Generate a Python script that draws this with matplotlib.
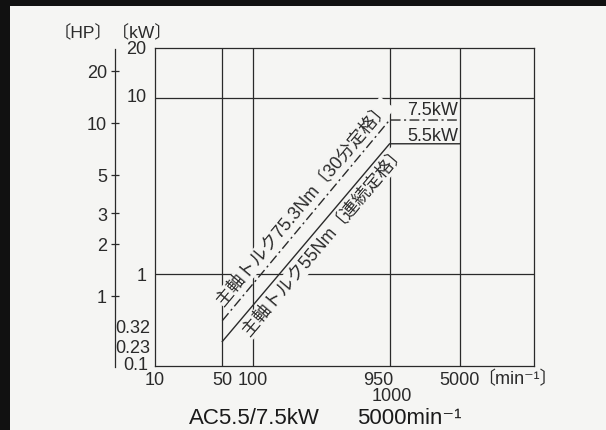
import numpy as np
import matplotlib
matplotlib.use('Agg')
import matplotlib.pyplot as plt
from matplotlib.patches import Rectangle

# spindle output chart (schematic log-log)
speed = [50, 950, 5000]             # min-1
kw_30min = [0.32, 7.5, 7.5]         # 75.3Nm, 30 min rating
kw_cont = [0.23, 5.5, 5.5]          # 55Nm, continuous rating
rated_labels = ['7.5kW', '5.5kW']
label_30min = '主軸トルク75.3Nm〔30分定格〕'
label_cont = '主軸トルク55Nm〔連続定格〕'

x_grid = [50, 100, 950, 5000]
y_grid = [1, 10]
x_ticks = [10, 50, 100, 950, 5000]
x_ticklabels = ['10', '50', '100', '950', '5000']
kw_ticks = [0.1, 0.23, 0.32, 1, 10, 20]
kw_ticklabels = ['0.1', '0.23', '0.32', '1', '10', '20']
hp_ticks = [1, 2, 3, 5, 10, 20]
hp_ticklabels = ['1', '2', '3', '5', '10', '20']

# the drawing is not a true log scale: piecewise log mapping (value -> position)
x_knots = [10, 50, 100, 950, 5000, 20000]
x_knot_pos = [0, 67.3, 97.8, 234.6, 305.0, 379.0]
y_knots = [0.1, 0.23, 0.32, 1, 10, 20]
y_knot_pos = [0, 24.2, 45.0, 91.4, 267.7, 317.7]


def piecewise_log(vals, pos):
    lv = np.log10(vals)
    pos = np.asarray(pos, float)

    def fwd(v):
        v = np.clip(np.asarray(v, float), 1e-12, None)
        return np.interp(np.log10(v), lv, pos)

    def inv(p):
        return 10 ** np.interp(np.asarray(p, float), pos, lv)
    return fwd, inv


plt.rcParams['font.family'] = ['Liberation Sans', 'Noto Sans CJK JP', 'DejaVu Sans']
bg = '#f5f5f3'
ink = '#2a2a2a'
W, H = 606, 431
fs = 13

fig = plt.figure(figsize=(W / 100, H / 100), dpi=100, facecolor=bg)
fig.patches.append(Rectangle((0, 1 - 7 / H), 1, 7 / H, transform=fig.transFigure, fc='#111111', ec='none'))
fig.patches.append(Rectangle((0, 0), 10 / W, 1, transform=fig.transFigure, fc='#111111', ec='none'))

ax = fig.add_axes([155 / W, 64.3 / H, 379 / W, 317.7 / H])
ax.set_facecolor('none')
ax.set_xscale('function', functions=piecewise_log(x_knots, x_knot_pos))
ax.set_yscale('function', functions=piecewise_log(y_knots, y_knot_pos))
ax.set_xlim(x_knots[0], x_knots[-1])
ax.set_ylim(y_knots[0], y_knots[-1])
ax.set_xticks(x_grid)
ax.set_yticks(y_grid)
ax.minorticks_off()
ax.tick_params(length=0, labelbottom=False, labelleft=False)
ax.grid(True, color=ink, lw=0.9, zorder=1)
ax.set_axisbelow(True)
for s in ax.spines.values():
    s.set_color(ink)
    s.set_linewidth(0.9)

# power curves
ax.plot(speed, kw_30min, color=ink, lw=1.0, ls=(0, (7, 2.5, 1.5, 2.5)), zorder=4)
ax.plot(speed, kw_cont, color=ink, lw=1.0, zorder=4)

# rating labels above the flat parts
ax.annotate(rated_labels[0], xy=(speed[-1], kw_30min[-1]), xytext=(-1.5, 4.3),
            textcoords='offset points', ha='right', va='baseline', fontsize=fs, color=ink)
ax.annotate(rated_labels[1], xy=(speed[-1], kw_cont[-1]), xytext=(-1.5, 2.4),
            textcoords='offset points', ha='right', va='baseline', fontsize=fs, color=ink)


def label_along(text, xs, ys, t, off):
    p0 = ax.transData.transform((xs[0], ys[0]))
    p1 = ax.transData.transform((xs[1], ys[1]))
    d = p1 - p0
    ang = np.degrees(np.arctan2(d[1], d[0]))
    mid = ax.transData.inverted().transform(p0 + t * d)
    a = np.radians(ang)
    n = np.array([-np.sin(a), np.cos(a)]) * off
    ax.annotate(text, xy=mid, xytext=(n[0], n[1]), textcoords='offset points',
                rotation=ang, rotation_mode='anchor', ha='center', va='center',
                fontsize=12.8, color=ink, zorder=3,
                bbox=dict(boxstyle='square,pad=0.06', fc=bg, ec='none'))


label_along(label_30min, speed[:2], kw_30min[:2], 0.545, 9.3)
label_along(label_cont, speed[:2], kw_cont[:2], 0.554, -9.2)

# x tick labels
x_label_dx = {950: -8.4}
for v, s in zip(x_ticks, x_ticklabels):
    ax.annotate(s, xy=(v, 0), xycoords=('data', 'axes fraction'),
                xytext=(x_label_dx.get(v, 0), -9.6), textcoords='offset points',
                ha='center', va='center', fontsize=fs, color=ink)
ax.annotate('1000', xy=(1000, 0), xycoords=('data', 'axes fraction'),
            xytext=(0, -21.6), textcoords='offset points',
            ha='center', va='center', fontsize=fs, color=ink)
ax.annotate('〔min⁻¹〕', xy=(5000, 0), xycoords=('data', 'axes fraction'),
            xytext=(12.5, -9.6), textcoords='offset points',
            ha='left', va='center', fontsize=fs, color=ink)

# kW tick labels
kw_label_off = {0.1: (-4.8, 1.2), 0.23: (-3.4, -4.3), 0.32: (-3.4, -4.75),
                1: (-6.0, -1.2), 10: (-6.0, 1.2), 20: (-6.0, 0)}
for v, s in zip(kw_ticks, kw_ticklabels):
    ax.annotate(s, xy=(0, v), xycoords=('axes fraction', 'data'),
                xytext=kw_label_off[v], textcoords='offset points',
                ha='right', va='center', fontsize=fs, color=ink)

# HP axis
ax_hp = fig.add_axes([115 / W, (H - 368.3) / H, 0.002, (368.3 - 50) / H])
ax_hp.patch.set_visible(False)
for k in ['top', 'right', 'bottom']:
    ax_hp.spines[k].set_visible(False)
ax_hp.spines['left'].set_color(ink)
ax_hp.spines['left'].set_linewidth(0.9)
ax_hp.set_yscale('log')
ax_hp.set_ylim(0.3855, 26.7)
ax_hp.set_yticks(hp_ticks)
ax_hp.set_yticklabels(hp_ticklabels)
ax_hp.minorticks_off()
ax_hp.set_xticks([])
ax_hp.tick_params(axis='y', direction='inout', length=5.8, width=0.9, color=ink,
                  pad=2.9, labelsize=fs, labelcolor=ink)

fig.text(113.3 / W, 1 - 33.3 / H, '〔HP〕〔kW〕', ha='center', va='center', fontsize=12.5, color=ink)
fig.text(254.7 / W, 1 - 418.3 / H, 'AC5.5/7.5kW', ha='center', va='center', fontsize=16, color='#1a1a1a')
fig.text(356.7 / W, 1 - 418.3 / H, '5000min⁻¹', ha='left', va='center', fontsize=16, color='#1a1a1a')

fig.savefig('out.png', dpi=100, facecolor=bg)
